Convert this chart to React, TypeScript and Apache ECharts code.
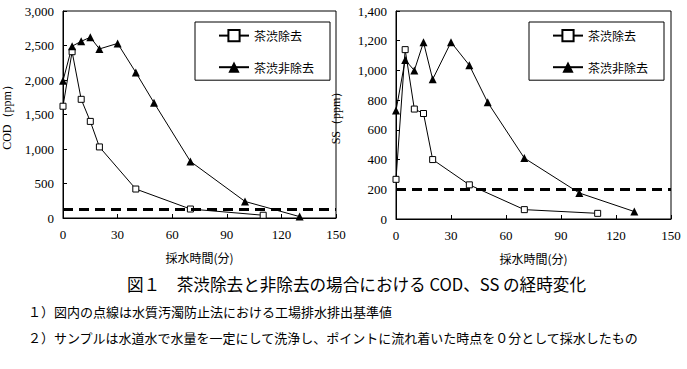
import React, { useEffect, useRef } from "react";
import * as echarts from "echarts";

const timeRemoved = [0, 5, 10, 15, 20, 40, 70, 110];
const timeNotRemoved = [0, 5, 10, 15, 20, 30, 40, 50, 70, 100, 130];

const codRemoved = [1620, 2410, 1720, 1400, 1030, 420, 130, 40];
const codNotRemoved = [1990, 2490, 2560, 2620, 2450, 2530, 2110, 1670, 820, 240, 20];

const ssRemoved = [267, 1140, 740, 710, 400, 230, 63, 38];
const ssNotRemoved = [730, 1070, 1000, 1190, 940, 1190, 1035, 785, 410, 175, 50];

const codStandard = 120;
const ssStandard = 200;

const seriesNames = ["茶渋除去", "茶渋非除去"];
const xTicks = { min: 0, max: 150, interval: 30 };

const caption = "図１　茶渋除去と非除去の場合における COD、SS の経時変化";
const note1 = "１）図内の点線は水質汚濁防止法における工場排水排出基準値";
const note2 = "２）サンプルは水道水で水量を一定にして洗浄し、ポイントに流れ着いた時点を０分として採水したもの";

const JP = "'Noto Sans CJK JP', sans-serif";
const SERIF = "'Liberation Serif', 'Times New Roman', serif";

function pairs(xs: number[], ys: number[]) {
  return xs.map((x, i) => [x, ys[i]]);
}

export default function App() {
  const ref = useRef<HTMLDivElement>(null);
  useEffect(() => {
    if (!ref.current) return;
    const chart = echarts.init(ref.current, undefined, { renderer: "svg" });

    const xAxisBase = (gridIndex: number) => ({
      type: "value" as const,
      gridIndex,
      min: xTicks.min,
      max: xTicks.max,
      interval: xTicks.interval,
      name: "採水時間(分)",
      nameLocation: "middle" as const,
      nameGap: 33,
      nameTextStyle: { fontFamily: JP, fontSize: 12, color: "#000" },
      axisLine: { show: true, lineStyle: { color: "#000", width: 1 } },
      axisTick: { show: true, inside: true, length: 4, lineStyle: { color: "#000" } },
      axisLabel: { fontFamily: SERIF, fontSize: 13, color: "#000", margin: 10 },
      splitLine: { show: false },
    });

    const yAxisBase = (gridIndex: number, max: number, interval: number, name: string, nameGap: number) => ({
      type: "value" as const,
      gridIndex,
      min: 0,
      max,
      interval,
      name,
      nameLocation: "middle" as const,
      nameRotate: 90,
      nameGap,
      nameTextStyle: { fontFamily: SERIF, fontSize: 12, color: "#000" },
      axisLine: { show: true, lineStyle: { color: "#000", width: 1 } },
      axisTick: { show: true, inside: true, length: 4, lineStyle: { color: "#000" } },
      axisLabel: {
        fontFamily: SERIF,
        fontSize: 13,
        color: "#000",
        margin: 9,
        formatter: (v: number) => v.toLocaleString("en-US"),
      },
      splitLine: { show: false },
    });

    const squareSeries = (idx: number, ys: number[], std?: number) => ({
      type: "line" as const,
      name: seriesNames[0],
      xAxisIndex: idx,
      yAxisIndex: idx,
      data: pairs(timeRemoved, ys),
      symbol: "rect",
      symbolSize: 6,
      showAllSymbol: true,
      lineStyle: { color: "#000", width: 1 },
      itemStyle: { color: "#fff", borderColor: "#000", borderWidth: 1 },
      z: 3,
      markLine:
        std !== undefined
          ? {
              silent: true,
              symbol: ["none", "none"],
              label: { show: false },
              lineStyle: { color: "#000", width: 3, type: [10, 6] },
              data: [{ yAxis: std }],
            }
          : undefined,
    });

    const triSeries = (idx: number, ys: number[]) => ({
      type: "line" as const,
      name: seriesNames[1],
      xAxisIndex: idx,
      yAxisIndex: idx,
      data: pairs(timeNotRemoved, ys),
      symbol: "triangle",
      symbolSize: 8,
      showAllSymbol: true,
      lineStyle: { color: "#000", width: 1 },
      itemStyle: { color: "#000", borderColor: "#000", borderWidth: 0 },
      z: 3,
    });

    const legendBase = (left: number) => ({
      show: true,
      orient: "vertical" as const,
      left,
      top: 22,
      itemWidth: 30,
      itemHeight: 14,
      itemGap: 19,
      padding: [7, 16, 7, 23],
      borderColor: "#000",
      borderWidth: 1,
      backgroundColor: "#fff",
      textStyle: { fontFamily: JP, fontSize: 12, color: "#000" },
      data: seriesNames,
      selectedMode: false,
    });

    chart.setOption({
      animation: false,
      backgroundColor: "#fff",
      grid: [
        { left: 62, right: 351, top: 11, bottom: 151, show: true, borderColor: "#000", borderWidth: 1, backgroundColor: "transparent" },
        { left: 396, right: 16, top: 11, bottom: 150, show: true, borderColor: "#000", borderWidth: 1, backgroundColor: "transparent" },
      ],
      xAxis: [xAxisBase(0), xAxisBase(1)],
      yAxis: [
        yAxisBase(0, 3000, 500, "COD（ppm）", 50),
        yAxisBase(1, 1400, 200, "SS（ppm）", 54),
      ],
      legend: [legendBase(195), legendBase(529)],
      series: [
        squareSeries(0, codRemoved, codStandard),
        triSeries(0, codNotRemoved),
        squareSeries(1, ssRemoved, ssStandard),
        triSeries(1, ssNotRemoved),
      ],
      graphic: [
        {
          type: "text",
          left: 127,
          top: 276,
          style: { text: caption, font: `16.6px ${JP}`, fill: "#000" },
        },
        {
          type: "text",
          left: 28,
          top: 305,
          style: { text: note1, font: `13px ${JP}`, fill: "#000" },
        },
        {
          type: "text",
          left: 28,
          top: 331,
          style: { text: note2, font: `13px ${JP}`, fill: "#000" },
        },
      ],
    });
    return () => chart.dispose();
  }, []);
  return (
    <div
      ref={ref}
      style={{ position: "absolute", left: 0, top: 0, width: 687, height: 369, background: "#fff" }}
    />
  );
}
